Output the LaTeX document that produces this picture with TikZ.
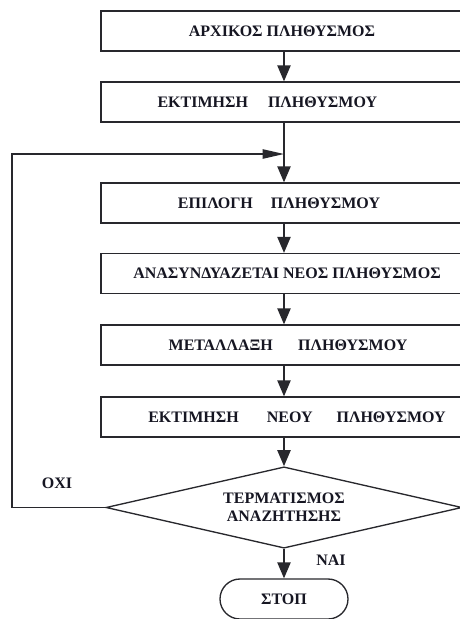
\documentclass[tikz,border=0pt]{standalone}
\usepackage{fontspec}
\setmainfont{Liberation Serif}
\usetikzlibrary{arrows.meta,shapes.geometric,shapes.misc}

\definecolor{ink}{RGB}{22,22,34}
\definecolor{rule}{RGB}{40,40,45}
\newcommand{\flowfont}{\fontsize{12}{13.5}\selectfont\bfseries}

\begin{document}
\begin{tikzpicture}[x=0.75pt,y=-0.75pt,
  line width=1pt,
  stepbox/.style={draw=rule, rectangle, minimum width=274.5pt, minimum height=30pt,
    inner sep=0pt, font=\flowfont, text=ink},
  testbox/.style={draw=rule, diamond, shape aspect=4.4, minimum width=267pt,
    minimum height=61pt, inner sep=0pt, font=\flowfont, text=ink, align=center},
  endbox/.style={draw=rule, rounded rectangle, minimum width=96pt, minimum height=30pt,
    inner sep=0pt, font=\flowfont, text=ink},
  tag/.style={font=\flowfont, text=ink, inner sep=0pt},
  flow/.style={draw=rule, -{Triangle[length=12pt,width=10pt]}},
  back/.style={draw=rule, -{Triangle[length=16pt,width=7pt]}}]

\useasboundingbox (0,0) rectangle (460,619);
\clip (0,0) rectangle (460,619);

% process steps
\node[stepbox] (init) at (284,31)  {\hspace*{-3pt}ΑΡΧΙΚΟΣ ΠΛΗΘΥΣΜΟΣ};
\node[stepbox] (eval) at (284,102) {\hspace*{-25pt}ΕΚΤΙΜΗΣΗ\hspace{15pt}ΠΛΗΘΥΣΜΟΥ};
\node[stepbox] (sel)  at (284,203) {\hspace*{-7.5pt}ΕΠΙΛΟΓΗ\hspace{13.5pt}ΠΛΗΘΥΣΜΟΥ};
\node[stepbox] (comb) at (284,273.5) {\hspace*{4.5pt}ΑΝΑΣΥΝΔΥΑΖΕΤΑΙ ΝΕΟΣ ΠΛΗΘΥΣΜΟΣ};
\node[stepbox] (mut)  at (284,345) {\hspace*{6pt}ΜΕΤΑΛΛΑΞΗ\hspace{19pt}ΠΛΗΘΥΣΜΟΥ};
\node[stepbox] (neval) at (284,417) {\hspace*{19.5pt}ΕΚΤΙΜΗΣΗ\hspace{21pt}ΝΕΟΥ\hspace{18pt}ΠΛΗΘΥΣΜΟΥ};

% termination test and end
\node[testbox] (test) at (284,507.5) {ΤΕΡΜΑΤΙΣΜΟΣ\\ΑΝΑΖΗΤΗΣΗΣ};
\node[endbox] (stop) at (284,599) {ΣΤΟΠ};

% main flow
\draw[flow] (init.south) -- (eval.north);
\draw[flow] (eval.south) -- (sel.north);
\draw[flow] (sel.south) -- (comb.north);
\draw[flow] (comb.south) -- (mut.north);
\draw[flow] (mut.south) -- (neval.north);
\draw[flow] (neval.south) -- (test.north);
\draw[flow] (test.south) -- (stop.north);

% loop back when the search goes on
\coordinate (loopB) at (12,507.5);
\coordinate (loopT) at (12,154);
\coordinate (join) at (284,154);
\draw[back] (test.west) -- (loopB) -- (loopT) -- (join);

% branch labels
\node[tag] (no)  at (57,483)  {ΟΧΙ};
\node[tag] (yes) at (331,560) {ΝΑΙ};
\end{tikzpicture}
\end{document}
